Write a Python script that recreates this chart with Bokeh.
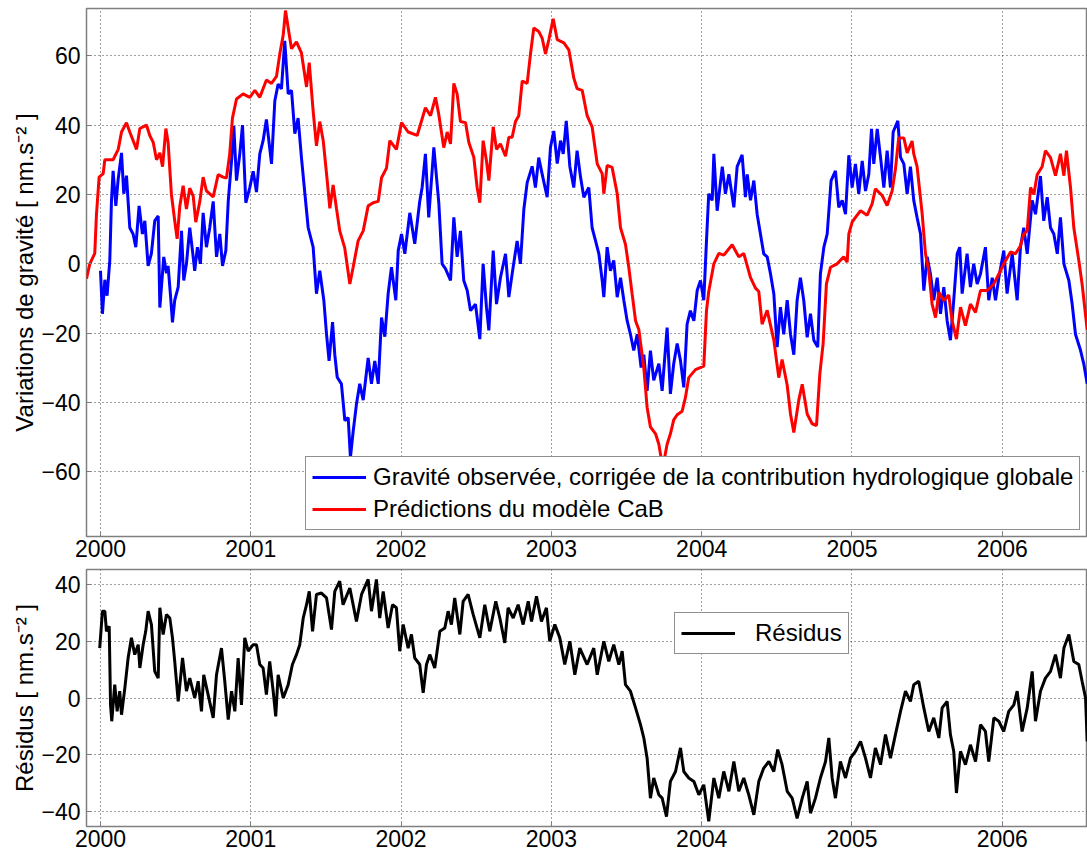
from bokeh.plotting import figure
from bokeh.models import Range1d, FixedTicker, Legend, LegendItem
from bokeh.layouts import column
from bokeh.embed import file_html
from bokeh.resources import INLINE

# ---------------- data (decimal year, nm.s-2) ----------------
observed = [
    (2000.000, -2), (2000.013, -14.4), (2000.029, -4.6), (2000.044, -9.2), (2000.062, 1), (2000.073, 18),
    (2000.084, 26.8), (2000.102, 16.7), (2000.118, 24.5), (2000.140, 32), (2000.155, 20.2), (2000.173, 25.4),
    (2000.195, 10.4), (2000.217, 8.6), (2000.235, 4.8), (2000.257, 16.7), (2000.279, 8.6), (2000.295, 12.4),
    (2000.317, -0.6), (2000.339, 3), (2000.361, 12.4), (2000.384, 13.8), (2000.395, -12.6), (2000.421, 2),
    (2000.439, -2.7), (2000.450, -0.6), (2000.466, -9.2), (2000.479, -16.9), (2000.494, -10.5), (2000.517, -6.7),
    (2000.539, 9.5), (2000.554, -4.8), (2000.572, 0), (2000.594, 10.4), (2000.612, 3.8), (2000.627, -2),
    (2000.645, 4.8), (2000.665, 0), (2000.683, 14.7), (2000.705, 4.8), (2000.727, 10.4), (2000.750, 18),
    (2000.772, 2), (2000.794, 8.6), (2000.812, -0.6), (2000.834, 3.8), (2000.850, 18), (2000.872, 29.7),
    (2000.887, 39.8), (2000.905, 24), (2000.927, 31.7), (2000.945, 40), (2000.967, 17.6), (2000.993, 21.9),
    (2001.016, 26.7), (2001.038, 20.7), (2001.060, 31.7), (2001.082, 35.5), (2001.104, 41.6), (2001.138, 28.8),
    (2001.160, 47), (2001.182, 51.8), (2001.204, 50.4), (2001.226, 64.3), (2001.249, 49), (2001.271, 50),
    (2001.293, 37.5), (2001.315, 42), (2001.337, 30.7), (2001.360, 20.2), (2001.382, 10.4), (2001.415, 4.8),
    (2001.437, -8.6), (2001.459, -2), (2001.486, -10.5), (2001.504, -20.3), (2001.521, -28), (2001.544, -16.8),
    (2001.559, -26.2), (2001.575, -32.7), (2001.603, -34.6), (2001.626, -45.2), (2001.648, -44.3), (2001.663, -55.8),
    (2001.681, -48.4), (2001.703, -40.5), (2001.725, -34.6), (2001.748, -39.3), (2001.781, -27.1), (2001.803, -34.6),
    (2001.825, -28), (2001.848, -34.6), (2001.870, -15.5), (2001.892, -21), (2001.914, -8.6), (2001.936, -1),
    (2001.965, -10.5), (2001.981, 3.8), (2002.003, 8.6), (2002.025, 2.9), (2002.058, 14.7), (2002.091, 5.8),
    (2002.124, 18), (2002.140, 22), (2002.162, 31.7), (2002.184, 13.4), (2002.218, 33.6), (2002.251, 17.6),
    (2002.273, 0), (2002.295, -1.4), (2002.329, -4.8), (2002.351, 13.4), (2002.373, 2), (2002.395, 9.5),
    (2002.417, -4.8), (2002.440, -7.7), (2002.462, -13.5), (2002.495, -11.6), (2002.524, -21.7), (2002.546, 0),
    (2002.568, -12.5), (2002.584, -19.2), (2002.613, 3.8), (2002.635, -11.6), (2002.661, -4), (2002.695, 2.9),
    (2002.717, -9.6), (2002.739, -2.9), (2002.772, 6.6), (2002.794, 0), (2002.817, 15.8), (2002.839, 23.4),
    (2002.872, 28.1), (2002.894, 22), (2002.916, 30.6), (2002.939, 25.8), (2002.972, 19.2), (2002.994, 33.6),
    (2003.016, 38.3), (2003.039, 28.9), (2003.061, 35.5), (2003.079, 31.7), (2003.099, 41.2), (2003.123, 28),
    (2003.149, 22), (2003.171, 32.6), (2003.194, 25), (2003.216, 19.2), (2003.249, 22), (2003.271, 10.4),
    (2003.294, 6.6), (2003.316, 2.9), (2003.338, -4.8), (2003.349, -9.6), (2003.371, 4.8), (2003.393, -2),
    (2003.415, 1), (2003.438, -9.6), (2003.460, -4), (2003.482, -10.5), (2003.504, -16.4), (2003.526, -20.3),
    (2003.548, -25), (2003.571, -20.3), (2003.597, -29.9), (2003.615, -26.2), (2003.637, -36.6), (2003.659, -25),
    (2003.681, -33.6), (2003.715, -28.8), (2003.737, -36.6), (2003.770, -18.4), (2003.792, -37.5), (2003.814, -28.8),
    (2003.837, -23), (2003.859, -27.9), (2003.881, -35.6), (2003.903, -17.4), (2003.925, -13.5), (2003.948, -16.4),
    (2003.970, -7.7), (2003.992, -4.8), (2004.014, -10.5), (2004.032, 6.6), (2004.047, 20.2), (2004.070, 18.3),
    (2004.081, 31.7), (2004.103, 15.3), (2004.137, 28), (2004.158, 20.2), (2004.181, 25.8), (2004.214, 16.3),
    (2004.236, 28), (2004.269, 31.4), (2004.291, 19.2), (2004.303, 25.8), (2004.325, 18.3), (2004.347, 24),
    (2004.369, 14.3), (2004.391, 8.6), (2004.413, 2.9), (2004.436, 2), (2004.458, -2.9), (2004.480, -8.6),
    (2004.502, -24), (2004.524, -12.5), (2004.546, -20.3), (2004.569, -10.5), (2004.591, -20.3), (2004.613, -26.2),
    (2004.635, -10.5), (2004.657, -4), (2004.679, -10.5), (2004.702, -21.2), (2004.724, -14.4), (2004.746, -22),
    (2004.772, -24), (2004.790, -2.9), (2004.813, 4.8), (2004.835, 8.6), (2004.861, 24), (2004.890, 26.8),
    (2004.912, 16.3), (2004.935, 18.3), (2004.957, 14.3), (2004.979, 31.3), (2005.001, 22), (2005.023, 28.8),
    (2005.045, 20.2), (2005.068, 29.7), (2005.090, 21), (2005.112, 25.8), (2005.130, 38.9), (2005.145, 28.8),
    (2005.168, 38.9), (2005.190, 30.7), (2005.212, 22), (2005.234, 32.6), (2005.256, 22), (2005.274, 38),
    (2005.305, 41.2), (2005.323, 30.7), (2005.345, 28.8), (2005.367, 20.2), (2005.389, 28), (2005.411, 18.3),
    (2005.433, 13.4), (2005.456, 8.6), (2005.478, -7.7), (2005.500, 2), (2005.522, -2.9), (2005.544, -10.5),
    (2005.567, -4), (2005.589, -14.4), (2005.611, -6.7), (2005.633, -16.4), (2005.655, -22), (2005.677, -10.5),
    (2005.700, 2.9), (2005.717, 4.8), (2005.733, -8.6), (2005.766, 2.9), (2005.788, -6.7), (2005.810, 0),
    (2005.833, -5.8), (2005.855, -2.9), (2005.888, 4.8), (2005.910, -10.5), (2005.933, -4), (2005.955, -10.5),
    (2005.977, -4), (2006.010, 3.8), (2006.032, -8.6), (2006.066, 2.9), (2006.099, -10.5), (2006.121, 4.8),
    (2006.143, 10.4), (2006.166, 2.9), (2006.199, 18.3), (2006.221, 14.3), (2006.254, 25.3), (2006.276, 12.4),
    (2006.299, 19.2), (2006.321, 10.4), (2006.343, 8.6), (2006.366, 2.9), (2006.387, 13.4), (2006.410, 0),
    (2006.443, -4.8), (2006.465, -11.6), (2006.487, -20.3), (2006.521, -25), (2006.543, -29), (2006.565, -34.6),
]

predicted = [
    (1999.907, -4.3), (1999.929, 0), (1999.962, 3), (1999.973, 14), (1999.991, 25), (2000.018, 26),
    (2000.029, 30), (2000.084, 30), (2000.118, 33), (2000.140, 38), (2000.173, 40.7), (2000.195, 38),
    (2000.240, 33), (2000.262, 39), (2000.306, 40), (2000.328, 37), (2000.351, 35), (2000.373, 30),
    (2000.395, 32), (2000.413, 28), (2000.435, 39), (2000.450, 35), (2000.472, 20), (2000.494, 12.4),
    (2000.510, 7.2), (2000.528, 16.7), (2000.550, 22.5), (2000.572, 15.8), (2000.594, 21.8), (2000.617, 19.5),
    (2000.634, 12), (2000.661, 18), (2000.683, 25), (2000.705, 21), (2000.750, 19.3), (2000.783, 25.7),
    (2000.816, 25), (2000.838, 24.7), (2000.860, 31.7), (2000.878, 42), (2000.905, 47.5), (2000.949, 49),
    (2000.993, 48), (2001.027, 50), (2001.060, 48), (2001.104, 53), (2001.138, 52), (2001.171, 54),
    (2001.193, 60.5), (2001.216, 66), (2001.231, 73), (2001.249, 68), (2001.271, 62), (2001.304, 64),
    (2001.337, 60.8), (2001.371, 51), (2001.389, 58), (2001.415, 44), (2001.437, 34), (2001.459, 41),
    (2001.482, 35.5), (2001.504, 26), (2001.526, 16), (2001.548, 22.7), (2001.570, 16), (2001.592, 9.5),
    (2001.625, 4.6), (2001.659, -5.8), (2001.681, -1), (2001.714, 6.6), (2001.748, 9.5), (2001.781, 16.7),
    (2001.814, 17.6), (2001.848, 18), (2001.870, 24.8), (2001.903, 27.6), (2001.925, 35.5), (2001.969, 33),
    (2002.003, 40.7), (2002.047, 38), (2002.107, 37), (2002.162, 45), (2002.196, 42.7), (2002.229, 48),
    (2002.251, 43), (2002.284, 33.5), (2002.307, 38), (2002.329, 34.6), (2002.351, 52), (2002.373, 49),
    (2002.395, 41), (2002.429, 40.7), (2002.451, 35), (2002.484, 30.7), (2002.506, 22), (2002.524, 17.6),
    (2002.546, 35.5), (2002.568, 29.7), (2002.584, 24), (2002.613, 39.5), (2002.635, 33), (2002.661, 34.6),
    (2002.695, 31), (2002.717, 36.5), (2002.739, 36.5), (2002.761, 41), (2002.783, 42.7), (2002.806, 52.7),
    (2002.839, 52), (2002.861, 60.5), (2002.883, 68), (2002.916, 67), (2002.939, 65), (2002.961, 60.5),
    (2002.983, 64.6), (2003.012, 70.6), (2003.039, 64.6), (2003.083, 63.7), (2003.116, 61.7), (2003.149, 53.6),
    (2003.171, 50.5), (2003.205, 50), (2003.238, 42.7), (2003.271, 39.5), (2003.305, 28.8), (2003.338, 26),
    (2003.349, 20.2), (2003.371, 28.4), (2003.404, 27.8), (2003.438, 20.2), (2003.460, 10.4), (2003.493, 5.6),
    (2003.515, -1), (2003.537, -8.6), (2003.560, -16.4), (2003.582, -19), (2003.615, -30), (2003.637, -41.4),
    (2003.659, -47), (2003.693, -49), (2003.715, -52), (2003.741, -58.8), (2003.770, -52), (2003.792, -49),
    (2003.814, -45), (2003.837, -43.5), (2003.870, -42.5), (2003.892, -38.5), (2003.914, -32.8), (2003.959, -30.5),
    (2004.014, -29.5), (2004.032, -13.5), (2004.047, -8), (2004.081, 0), (2004.114, 3), (2004.147, 2.5),
    (2004.203, 5.5), (2004.247, 2), (2004.280, 3), (2004.325, -4), (2004.358, -7), (2004.380, -8),
    (2004.402, -17.4), (2004.436, -13.4), (2004.480, -22), (2004.513, -32.8), (2004.535, -27.6), (2004.569, -35),
    (2004.591, -43.3), (2004.613, -48.6), (2004.646, -39.3), (2004.669, -34.7), (2004.702, -43.3), (2004.735, -46.1),
    (2004.764, -46.6), (2004.786, -31.8), (2004.808, -23), (2004.830, -5.8), (2004.857, -1), (2004.901, 0),
    (2004.945, 2), (2004.968, 0.5), (2004.979, 8.6), (2005.001, 12), (2005.023, 13.4), (2005.057, 15.3),
    (2005.101, 14), (2005.134, 17.3), (2005.156, 21.6), (2005.201, 19.7), (2005.234, 16.8), (2005.267, 21),
    (2005.289, 27.3), (2005.311, 36.3), (2005.345, 36.3), (2005.367, 32), (2005.400, 35.4), (2005.411, 31.7),
    (2005.433, 28.1), (2005.467, 14.4), (2005.489, 2.9), (2005.511, -2), (2005.533, -11.6), (2005.556, -15.5),
    (2005.578, -8.2), (2005.611, -10.6), (2005.644, -9), (2005.666, -16.4), (2005.695, -21.7), (2005.722, -12.5),
    (2005.755, -17.8), (2005.788, -11.6), (2005.822, -14), (2005.855, -7.7), (2005.900, -7.7), (2005.944, -5.8),
    (2005.988, -2), (2006.010, 0), (2006.055, 3.4), (2006.088, 2.9), (2006.121, 5.2), (2006.143, 8.6),
    (2006.166, 9.5), (2006.188, 22), (2006.210, 20), (2006.232, 25.7), (2006.265, 28), (2006.287, 32.6),
    (2006.321, 30.6), (2006.354, 25.4), (2006.387, 31.7), (2006.410, 25.4), (2006.427, 32.6), (2006.454, 22),
    (2006.476, 10.4), (2006.509, 1), (2006.531, -5.8), (2006.565, -19),
]

residuals = [
    (1999.995, 17.6), (2000.013, 30.6), (2000.029, 30.6), (2000.040, 23.5), (2000.058, 25.3), (2000.067, -2.4),
    (2000.075, -8.2), (2000.095, 4.7), (2000.111, -4.7), (2000.128, 2.4), (2000.140, -5.9), (2000.162, 3.5),
    (2000.184, 14.1), (2000.206, 21.2), (2000.228, 15.3), (2000.251, 18.8), (2000.262, 10.6), (2000.284, 18.8),
    (2000.301, 23.5), (2000.317, 30.6), (2000.339, 25.9), (2000.361, 9.4), (2000.384, 7), (2000.395, 31.8),
    (2000.417, 22.4), (2000.439, 29.4), (2000.461, 28.2), (2000.479, 21.2), (2000.494, 12.9), (2000.517, -1.2),
    (2000.546, 14.1), (2000.572, 2.4), (2000.594, 7), (2000.627, 0), (2000.650, 5.9), (2000.672, -4.7),
    (2000.687, 8.2), (2000.716, 1.2), (2000.750, -7), (2000.772, 8.2), (2000.805, 17.6), (2000.827, 5.9),
    (2000.850, -7.6), (2000.872, 2.4), (2000.894, -4.7), (2000.916, 14.1), (2000.938, -2.4), (2000.960, 21.2),
    (2000.983, 16.5), (2001.016, 18.8), (2001.038, 18.8), (2001.060, 11.8), (2001.082, 10.6), (2001.104, 1.2),
    (2001.126, 12.9), (2001.149, 2.4), (2001.166, -6.5), (2001.182, 8.2), (2001.216, 0), (2001.249, 4.7),
    (2001.277, 11.8), (2001.304, 15.3), (2001.326, 18.8), (2001.349, 28.2), (2001.371, 32.9), (2001.389, 37.6),
    (2001.411, 23.5), (2001.437, 36.5), (2001.470, 37), (2001.504, 35.3), (2001.537, 24.1), (2001.559, 37.6),
    (2001.592, 41.2), (2001.614, 32.9), (2001.659, 38.8), (2001.703, 27), (2001.737, 36.5), (2001.781, 41.8),
    (2001.803, 30.6), (2001.836, 41.8), (2001.858, 28.2), (2001.881, 37.6), (2001.914, 24.7), (2001.943, 32.9),
    (2001.969, 31.8), (2001.991, 16.5), (2002.014, 25.9), (2002.047, 17.6), (2002.069, 22.4), (2002.091, 14.1),
    (2002.124, 11.8), (2002.147, 1.8), (2002.169, 11.8), (2002.191, 15.3), (2002.224, 10.6), (2002.258, 23.5),
    (2002.291, 24.7), (2002.313, 30.6), (2002.335, 25.9), (2002.357, 35.3), (2002.391, 22.4), (2002.413, 34.1),
    (2002.446, 36.5), (2002.480, 29.4), (2002.524, 21.2), (2002.557, 32.9), (2002.590, 23.5), (2002.630, 34.1),
    (2002.657, 28.2), (2002.690, 19.4), (2002.712, 31.8), (2002.746, 28.2), (2002.779, 32.9), (2002.812, 25.9),
    (2002.846, 34.1), (2002.868, 27), (2002.901, 35.9), (2002.934, 27), (2002.967, 31.8), (2002.989, 20),
    (2003.023, 25.9), (2003.056, 21.2), (2003.089, 11.8), (2003.123, 20), (2003.156, 8.2), (2003.189, 17.6),
    (2003.238, 11.8), (2003.282, 17.6), (2003.305, 8.2), (2003.349, 20), (2003.382, 12.9), (2003.415, 18.8),
    (2003.449, 11.8), (2003.471, 16.5), (2003.493, 4.7), (2003.526, 2.4), (2003.560, -3.5), (2003.593, -9.4),
    (2003.615, -14.1), (2003.637, -21.2), (2003.659, -35.3), (2003.681, -28.2), (2003.715, -34.1), (2003.737, -35.3),
    (2003.766, -41.8), (2003.792, -29.4), (2003.826, -25.9), (2003.859, -17.6), (2003.881, -25.9), (2003.914, -28.2),
    (2003.948, -29.4), (2003.981, -34.1), (2004.014, -30.6), (2004.047, -43.5), (2004.081, -28.2), (2004.114, -35.3),
    (2004.147, -25.9), (2004.181, -32.9), (2004.214, -22.4), (2004.247, -32.9), (2004.280, -28.2), (2004.313, -34.1),
    (2004.347, -41.2), (2004.380, -29.4), (2004.413, -24.7), (2004.447, -22.4), (2004.480, -25.9), (2004.506, -18.2),
    (2004.535, -23.5), (2004.569, -32.9), (2004.602, -35.3), (2004.635, -42.4), (2004.669, -35.3), (2004.702, -29.4),
    (2004.724, -40.6), (2004.757, -35.3), (2004.790, -28.2), (2004.824, -22.4), (2004.846, -14.1), (2004.868, -28.2),
    (2004.890, -35.3), (2004.923, -22.4), (2004.957, -28.2), (2004.990, -21.2), (2005.023, -18.8), (2005.057, -15.3),
    (2005.090, -21.2), (2005.123, -28.2), (2005.156, -17.6), (2005.190, -23.5), (2005.223, -12.9), (2005.256, -21.2),
    (2005.289, -12.9), (2005.323, -4.7), (2005.356, 2.4), (2005.389, -1.2), (2005.411, 4.7), (2005.444, 5.9),
    (2005.478, -3.5), (2005.511, -11.8), (2005.544, -7), (2005.578, -14.1), (2005.600, -3.5), (2005.633, -1.2),
    (2005.655, -12.9), (2005.677, -18.8), (2005.695, -33.5), (2005.722, -18.8), (2005.755, -23.5), (2005.788, -16.5),
    (2005.822, -22.4), (2005.855, -9.4), (2005.888, -11.8), (2005.910, -22.4), (2005.944, -7), (2005.977, -8.2),
    (2006.010, -11.8), (2006.043, -4.7), (2006.077, -2.4), (2006.099, 2.4), (2006.132, -11.8), (2006.166, -3.5),
    (2006.199, 9.4), (2006.221, -8.2), (2006.254, 2.4), (2006.287, 7), (2006.321, 9.4), (2006.354, 15.3),
    (2006.387, 7), (2006.410, 17.6), (2006.443, 22.4), (2006.476, 12.9), (2006.509, 11.8), (2006.531, 5.9),
    (2006.554, 0), (2006.565, -15.3),
]

year_ticks = [2000, 2001, 2002, 2003, 2004, 2005, 2006]
top_ticks = [-60, -40, -20, 0, 20, 40, 60]
bottom_ticks = [-40, -20, 0, 20, 40]

label_obs = "Gravité observée, corrigée de la contribution hydrologique globale"
label_pred = "Prédictions du modèle CaB"
label_res = "Résidus"
ylabel_top = "Variations de gravité [ nm.s⁻² ]"
ylabel_bottom = "Résidus [ nm.s⁻² ]"

# ---------------- drawing ----------------
FONT = "Liberation Sans"
X0, X1 = 1999.907, 2006.567


def split(pairs):
    return [p[0] for p in pairs], [p[1] for p in pairs]


def style(p, yticks, ylabel):
    p.outline_line_color = "#808080"
    p.outline_line_width = 1.5
    p.background_fill_color = "white"
    p.border_fill_color = "white"
    for ax in (p.xaxis[0], p.yaxis[0]):
        ax.axis_line_color = None
        ax.major_tick_out = 0
        ax.major_tick_in = 5
        ax.major_tick_line_color = "#808080"
        ax.minor_tick_line_color = None
        ax.major_label_text_font = FONT
        ax.major_label_text_font_size = "23px"
        ax.major_label_text_color = "black"
    p.xaxis.ticker = FixedTicker(ticks=year_ticks)
    p.yaxis.ticker = FixedTicker(ticks=yticks)
    p.xaxis.major_label_standoff = 3
    p.yaxis.major_label_standoff = 6
    p.yaxis.axis_label = ylabel
    p.yaxis.axis_label_text_font = FONT
    p.yaxis.axis_label_text_font_size = "24px"
    p.yaxis.axis_label_text_font_style = "normal"
    p.yaxis.axis_label_text_color = "black"
    p.yaxis.axis_label_standoff = 0
    p.grid.grid_line_color = "#303030"
    p.grid.grid_line_dash = "1 3"
    p.grid.grid_line_width = 1
    p.grid.grid_line_alpha = 0.9


def legend_style(leg, glyph_w, standoff):
    leg.label_text_font = FONT
    leg.label_text_font_size = "24px"
    leg.label_text_color = "black"
    leg.glyph_width = glyph_w
    leg.glyph_height = 24
    leg.label_height = 24
    leg.label_standoff = standoff
    leg.spacing = 4
    leg.padding = 6
    leg.margin = 0
    leg.border_line_color = "#202020"
    leg.border_line_width = 1
    leg.background_fill_color = "white"
    leg.background_fill_alpha = 1.0


p1 = figure(frame_width=1001, frame_height=528, min_border_left=86, min_border_right=0,
            min_border_top=8, min_border_bottom=32,
            x_range=Range1d(X0, X1), y_range=Range1d(-78.6, 73.6),
            output_backend="svg", toolbar_location=None)
style(p1, top_ticks, ylabel_top)
ot, ov = split(observed)
pt, pv = split(predicted)
r_obs = p1.line(ot, ov, line_color="#0000FF", line_width=3)
r_pred = p1.line(pt, pv, line_color="#FF0000", line_width=3)
leg1 = Legend(items=[LegendItem(label=label_obs, renderers=[r_obs]),
                     LegendItem(label=label_pred, renderers=[r_pred])],
              location=(219, 6))
legend_style(leg1, 54, 7)
p1.add_layout(leg1)

p2 = figure(frame_width=1001, frame_height=257, min_border_left=86, min_border_right=0,
            min_border_top=1, min_border_bottom=30,
            x_range=Range1d(X0, X1), y_range=Range1d(-45.3, 45.3),
            output_backend="svg", toolbar_location=None)
style(p2, bottom_ticks, ylabel_bottom)
rt, rv = split(residuals)
r_res = p2.line(rt, rv, line_color="black", line_width=3)
leg2 = Legend(items=[LegendItem(label=label_res, renderers=[r_res])], location=(588, 172))
legend_style(leg2, 54, 20)
p2.add_layout(leg2)

layout = column(p1, p2, spacing=0)
open("out.html", "w").write(file_html(layout, INLINE))
